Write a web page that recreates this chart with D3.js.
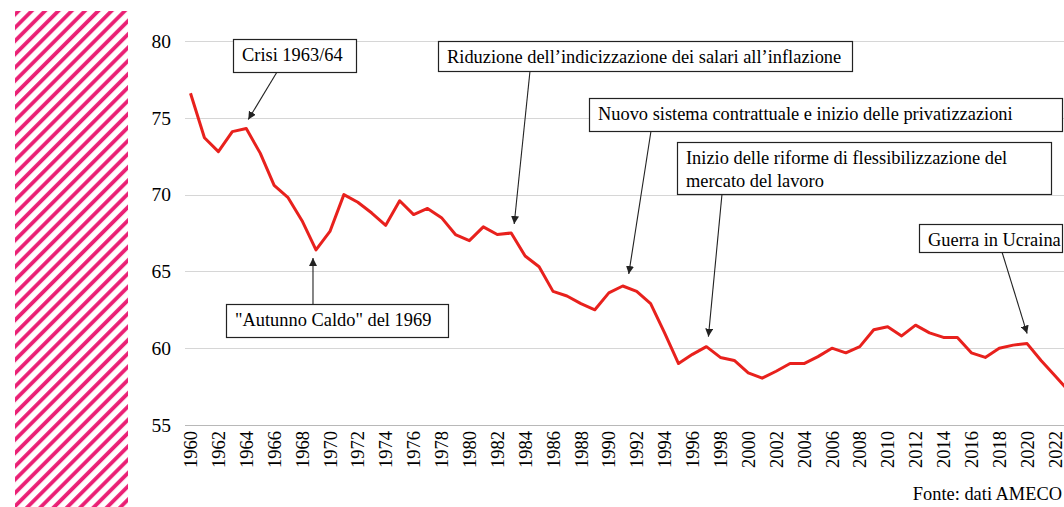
<!DOCTYPE html>
<html>
<head>
<meta charset="utf-8">
<script src="https://cdn.jsdelivr.net/npm/d3@7"></script>
<style>
  body { margin: 0; background: #fff; }
  svg { display: block; font-family: "Liberation Serif", "Times New Roman", serif; }
</style>
</head>
<body>
<script>
const WIDTH = 1064
const HEIGHT = 507

// quota dei salari (% del PIL), Italia
const years = d3.range(1960, 2024)
const share = [
  76.6, 73.7, 72.8, 74.1, 74.3, 72.7, 70.6, 69.8, 68.3, 66.4,
  67.6, 70.0, 69.5, 68.8, 68.0, 69.6, 68.7, 69.1, 68.5, 67.4,
  67.0, 67.9, 67.4, 67.5, 66.0, 65.3, 63.7, 63.4, 62.9, 62.5,
  63.6, 64.05, 63.7, 62.9, 61.0, 59.0, 59.6, 60.1, 59.4, 59.2,
  58.4, 58.05, 58.5, 59.0, 59.0, 59.45, 60.0, 59.7, 60.1, 61.2,
  61.4, 60.8, 61.5, 61.0, 60.7, 60.7, 59.7, 59.4, 60.0, 60.2,
  60.3, 59.2, 58.2, 57.2
]
const yTicks = [55, 60, 65, 70, 75, 80]
const xTicks = d3.range(1960, 2023, 2)

// annotazioni: testo, anno/valore indicato
const notes = [
  { lines: ['Crisi 1963/64'], year: 1964, value: 74.3 },
  { lines: ['"Autunno Caldo" del 1969'], year: 1969, value: 66.4 },
  { lines: ['Riduzione dell\u2019indicizzazione dei salari all\u2019inflazione'], year: 1983, value: 67.5 },
  { lines: ['Nuovo sistema contrattuale e inizio delle privatizzazioni'], year: 1991, value: 64.05 },
  { lines: ['Inizio delle riforme di flessibilizzazione del', 'mercato del lavoro'], year: 1997, value: 60.1 },
  { lines: ['Guerra in Ucraina'], year: 2020, value: 60.3 }
]
// box position and arrow geometry (layout only)
const noteLayout = [
  { x: 233, y: 39, w: 123, h: 33, sx: 277, tipDx: 2, tipDy: -9 },
  { x: 226, y: 304, w: 222, h: 33, sx: 313, tipDx: -3, tipDy: 8 },
  { x: 438, y: 41, w: 414, h: 30, sx: 530, tipDx: 3, tipDy: -9 },
  { x: 589, y: 98, w: 473, h: 33, sx: 651, tipDx: 6, tipDy: -12 },
  { x: 677, y: 142, w: 374, h: 52, sx: 722, tipDx: 2, tipDy: -10 },
  { x: 919, y: 224, w: 143, h: 28, sx: 1002, tipDx: 0, tipDy: -10 }
]

const x = d3.scaleLinear().domain([1960, 2022]).range([190.5, 1055])
const y = d3.scaleLinear().domain([55, 80]).range([425, 41])

const svg = d3.select(document.body).append('svg')
  .attr('width', WIDTH)
  .attr('height', HEIGHT)

// striscia decorativa
const defs = svg.append('defs')
const pat = defs.append('pattern')
  .attr('id', 'hatch')
  .attr('patternUnits', 'userSpaceOnUse')
  .attr('width', 9.4)
  .attr('height', 9.4)
  .attr('patternTransform', 'rotate(45)')
pat.append('line')
  .attr('x1', 2).attr('y1', -1)
  .attr('x2', 2).attr('y2', 11)
  .attr('stroke', '#ea1f74')
  .attr('stroke-width', 3.8)

defs.append('marker')
  .attr('id', 'arrow')
  .attr('viewBox', '0 0 10 10')
  .attr('refX', 10).attr('refY', 5)
  .attr('markerWidth', 8).attr('markerHeight', 8)
  .attr('markerUnits', 'userSpaceOnUse')
  .attr('orient', 'auto')
  .append('path')
  .attr('d', 'M0,0L10,5L0,10Z')
  .attr('fill', '#222')

svg.append('rect')
  .attr('x', 15).attr('y', 11)
  .attr('width', 113).attr('height', HEIGHT - 11)
  .attr('fill', 'url(#hatch)')

// griglia
const grid = svg.append('g')
grid.selectAll('line')
  .data(yTicks)
  .enter()
  .append('line')
  .attr('x1', 185)
  .attr('x2', WIDTH)
  .attr('y1', d => Math.round(y(d)) + 0.5)
  .attr('y2', d => Math.round(y(d)) + 0.5)
  .attr('stroke', d => d === 55 ? '#b8b8b8' : '#d6d6d6')
  .attr('stroke-width', 1)

// assi
const yAxis = svg.append('g')
  .attr('transform', 'translate(171,0)')
  .call(d3.axisLeft(y).tickValues(yTicks).tickSize(0).tickPadding(0))
yAxis.select('.domain').remove()
yAxis.selectAll('text')
  .attr('font-size', 19.5)
  .attr('fill', '#000')
  .attr('font-family', '"Liberation Serif", serif')

const xAxis = svg.append('g')
  .attr('transform', 'translate(0,431)')
  .call(d3.axisBottom(x).tickValues(xTicks).tickFormat(d3.format('d')).tickSize(0).tickPadding(0))
xAxis.select('.domain').remove()
xAxis.selectAll('text')
  .attr('font-size', 18.5)
  .attr('fill', '#000')
  .attr('font-family', '"Liberation Serif", serif')
  .attr('transform', 'rotate(-90)')
  .attr('text-anchor', 'end')
  .attr('x', 0)
  .attr('y', 0)
  .attr('dy', '0.33em')

// serie
const line = d3.line()
  .x((d, i) => x(years[i]))
  .y(d => y(d))
svg.append('path')
  .datum(share)
  .attr('d', line)
  .attr('fill', 'none')
  .attr('stroke', '#e8211d')
  .attr('stroke-width', 3)
  .attr('stroke-linejoin', 'round')

// annotazioni
const ann = svg.append('g')
notes.forEach((n, i) => {
  const L = noteLayout[i]
  const below = L.y > y(n.value)
  const sy = below ? L.y : L.y + L.h
  ann.append('line')
    .attr('x1', L.sx).attr('y1', sy)
    .attr('x2', x(n.year) + L.tipDx)
    .attr('y2', y(n.value) + L.tipDy)
    .attr('stroke', '#222')
    .attr('stroke-width', 1.1)
    .attr('marker-end', 'url(#arrow)')
  ann.append('rect')
    .attr('x', L.x + 0.5).attr('y', L.y + 0.5)
    .attr('width', L.w).attr('height', L.h)
    .attr('fill', '#fff')
    .attr('stroke', '#222')
    .attr('stroke-width', 1.2)
  n.lines.forEach((t, j) => {
    ann.append('text')
      .attr('x', L.x + 9)
      .attr('y', L.y + 22 + j * 23)
      .attr('font-size', 18.4)
      .attr('fill', '#000')
      .text(t)
  })
})

svg.append('text')
  .attr('x', 1062)
  .attr('y', 500)
  .attr('text-anchor', 'end')
  .attr('font-size', 18.4)
  .attr('fill', '#000')
  .text('Fonte: dati AMECO')
</script>
</body>
</html>
